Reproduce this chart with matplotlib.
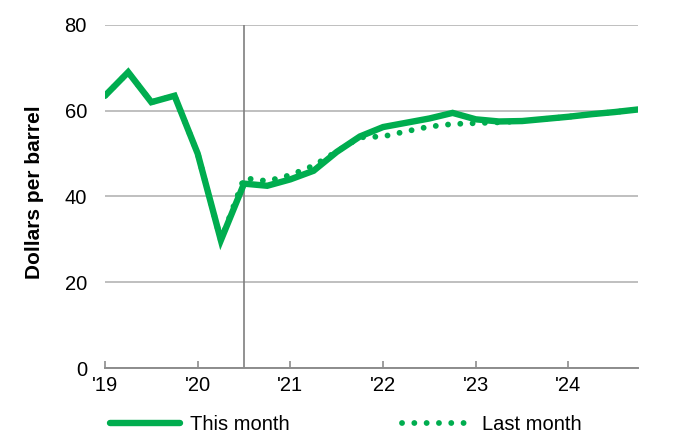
import matplotlib
matplotlib.use("Agg")
import matplotlib.pyplot as plt
from matplotlib.lines import Line2D

plt.rcParams['font.family'] = ['Liberation Sans', 'DejaVu Sans']

# Quarterly oil price, 2019 Q1 .. 2024 Q4 (dollars per barrel)
quarters = list(range(24))
this_month = [63.5, 69.0, 62.0, 63.5, 50.0, 29.8, 43.0, 42.5, 44.0, 46.0,
              50.4, 54.0, 56.2, 57.2, 58.2, 59.5, 58.0, 57.5, 57.6, 58.1,
              58.6, 59.2, 59.7, 60.3]
last_month = [63.5, 69.0, 62.0, 63.5, 50.0, 29.8, 44.3, 43.6, 45.0, 47.2,
              50.5, 53.8, 54.0, 55.2, 56.3, 56.9, 57.1, 57.3, 57.6, 58.1,
              58.6, 59.2, 59.7, 60.3]
year_ticks = [0, 4, 8, 12, 16, 20]
year_labels = ["'19", "'20", "'21", "'22", "'23", "'24"]
y_ticks = [0, 20, 40, 60, 80]
marker_quarter = 6

green = "#00AD4F"
dotted = (0, (0.01, 2.1))

fig = plt.figure(figsize=(6.79, 4.37), dpi=100)
ax = fig.add_axes([105 / 679, 1 - 368 / 437, (638 - 105) / 679, (368 - 25) / 437])

ax.plot(quarters, last_month, color=green, lw=4.2,
        linestyle=dotted, dash_capstyle='round', zorder=3)
ax.plot(quarters, this_month, color=green, lw=4.6,
        solid_capstyle='round', solid_joinstyle='miter', zorder=4)

ax.axvline(marker_quarter, color="#7F7F7F", lw=1.2, zorder=2)

ax.set_xlim(0, 23)
ax.set_ylim(0, 80)
ax.set_yticks(y_ticks)
ax.set_xticks(year_ticks)
ax.set_xticklabels(year_labels)

ax.grid(axis='y', color="#BFBFBF", lw=1.4, zorder=1)
ax.set_axisbelow(True)
for side in ('top', 'right', 'left'):
    ax.spines[side].set_visible(False)
ax.spines['bottom'].set_color("#8C8C8C")
ax.spines['bottom'].set_linewidth(1.4)
ax.spines['bottom'].set_zorder(5)

ax.tick_params(axis='y', length=0, pad=13, labelsize=14.5)
ax.tick_params(axis='x', direction='in', length=5, color="#8C8C8C",
               width=1.2, pad=6, labelsize=14.5)

fig.text(35 / 679, 1 - 192 / 437, "Dollars per barrel", rotation=90,
         ha='center', va='center', fontsize=15, fontweight='bold')

handles = [Line2D([], [], color=green, lw=4.6, solid_capstyle='round'),
           Line2D([], [], color=green, lw=4.2, linestyle=dotted,
                  dash_capstyle='round')]
fig.legend(handles, ["This month", "Last month"], loc='center',
           bbox_to_anchor=(0.5096, 0.028), ncol=2, frameon=False, fontsize=14.5,
           handlelength=3.45, handletextpad=0.5, columnspacing=5.6)

fig.savefig("out.png", dpi=100)
